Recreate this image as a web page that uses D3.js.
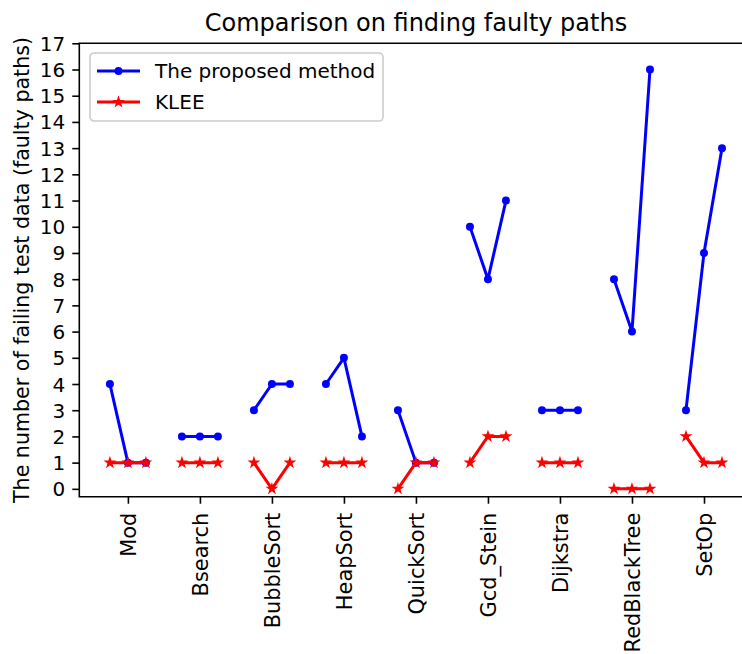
<!DOCTYPE html>
<html>
<head>
<meta charset="utf-8">
<script src="https://cdn.jsdelivr.net/npm/d3@7"></script>
<style>
  body { margin: 0; background: #fff; }
  svg { font-family: "DejaVu Sans", sans-serif; display: block; }
</style>
</head>
<body>
<svg width="742" height="654"></svg>
<script>
// data
var categories = ["Mod", "Bsearch", "BubbleSort", "HeapSort", "QuickSort", "Gcd_Stein", "Dijkstra", "RedBlackTree", "SetOp"];
var offsets = [-0.25, 0, 0.25];
var proposed = [[4,1,1],[2,2,2],[3,4,4],[4,5,2],[3,1,1],[10,8,11],[3,3,3],[8,6,16],[3,9,13]];
var klee = [[1,1,1],[1,1,1],[1,0,1],[1,1,1],[0,1,1],[1,2,2],[1,1,1],[0,0,0],[2,1,1]];
var yTicks = d3.range(0, 18);

var margin = {top: 43.3, left: 79.3, right: 752.6, bottom: 496.7};

var svg = d3.select("svg");

var x = d3.scaleLinear().domain([-0.675, 8.675]).range([margin.left, margin.right]);
var y = d3.scaleLinear().domain([-0.3, 17]).range([margin.bottom, margin.top]);

// title
svg.append("text")
    .attr("x", (margin.left + margin.right) / 2)
    .attr("y", 31)
    .attr("text-anchor", "middle")
    .attr("font-size", 24)
    .text("Comparison on finding faulty paths");

// axes
var yAxis = svg.append("g")
    .attr("transform", "translate(" + margin.left + ",0)")
    .call(d3.axisLeft(y).tickValues(yTicks).tickSize(7).tickPadding(7).tickFormat(d3.format("d")));

var xAxis = svg.append("g")
    .attr("transform", "translate(0," + margin.bottom + ")")
    .call(d3.axisBottom(x).tickValues(d3.range(categories.length)).tickSize(7).tickFormat(function(d) { return categories[d]; }));

[yAxis, xAxis].forEach(function(g) {
  g.select(".domain").remove();
  g.selectAll(".tick line").attr("stroke", "#000").attr("stroke-width", 1.6);
  g.selectAll(".tick text").attr("fill", "#000").attr("font-size", 20).attr("font-family", "DejaVu Sans");
});

yAxis.selectAll(".tick text").attr("dy", "0.35em");

xAxis.selectAll(".tick text")
    .attr("x", 0).attr("y", 0)
    .attr("dy", "0.35em")
    .attr("font-size", 20.9)
    .attr("text-anchor", "end")
    .attr("transform", "translate(0,16) rotate(-90)");

// spines
svg.append("path")
    .attr("d", "M" + margin.right + "," + margin.top + "H" + margin.left + "V" + margin.bottom + "H" + margin.right)
    .attr("fill", "none")
    .attr("stroke", "#000")
    .attr("stroke-width", 1.6);

// y label
svg.append("text")
    .attr("transform", "translate(29," + ((margin.top + margin.bottom) / 2) + ") rotate(-90)")
    .attr("text-anchor", "middle")
    .attr("font-size", 20.6)
    .text("The number of failing test data (faulty paths)");

function starPath(r) {
  var pts = [];
  for (var i = 0; i < 10; i++) {
    var rad = i % 2 === 0 ? r : r * 0.381966;
    var a = -Math.PI / 2 + i * Math.PI / 5;
    pts.push([rad * Math.cos(a), rad * Math.sin(a)]);
  }
  return "M" + pts.map(function(p) { return p[0].toFixed(2) + "," + p[1].toFixed(2); }).join("L") + "Z";
}

var line = d3.line()
    .x(function(d) { return x(d.x); })
    .y(function(d) { return y(d.y); });

function drawSeries(values, color, marker) {
  var g = svg.append("g");
  values.forEach(function(vals, ci) {
    var pts = vals.map(function(v, j) { return {x: ci + offsets[j], y: v}; });
    g.append("path")
        .attr("d", line(pts))
        .attr("fill", "none")
        .attr("stroke", color)
        .attr("stroke-width", 3)
        .attr("stroke-linejoin", "round")
        .attr("stroke-linecap", "square");
    pts.forEach(function(p) {
      if (marker === "dot") {
        g.append("circle")
            .attr("cx", x(p.x)).attr("cy", y(p.y)).attr("r", 3)
            .attr("fill", color).attr("stroke", color).attr("stroke-width", 2);
      } else {
        g.append("path")
            .attr("d", starPath(4.2))
            .attr("transform", "translate(" + x(p.x) + "," + y(p.y) + ")")
            .attr("fill", color).attr("stroke", color).attr("stroke-width", 1.6)
            .attr("stroke-linejoin", "miter");
      }
    });
  });
}

drawSeries(proposed, "#0000ff", "dot");
drawSeries(klee, "#ff0000", "star");

// legend
var legend = svg.append("g").attr("transform", "translate(90,53)");
legend.append("rect")
    .attr("width", 293).attr("height", 68).attr("rx", 4)
    .attr("fill", "#fff").attr("fill-opacity", 0.8)
    .attr("stroke", "#cccccc").attr("stroke-width", 1.6);

var legendItems = [
  {name: "The proposed method", color: "#0000ff", marker: "dot"},
  {name: "KLEE", color: "#ff0000", marker: "star"}
];

legendItems.forEach(function(item, i) {
  var cy = 18 + i * 31;
  legend.append("line")
      .attr("x1", 7).attr("x2", 50).attr("y1", cy).attr("y2", cy)
      .attr("stroke", item.color).attr("stroke-width", 3);
  if (item.marker === "dot") {
    legend.append("circle").attr("cx", 28.5).attr("cy", cy).attr("r", 3)
        .attr("fill", item.color).attr("stroke", item.color).attr("stroke-width", 2);
  } else {
    legend.append("path").attr("d", starPath(4.2))
        .attr("transform", "translate(28.5," + cy + ")")
        .attr("fill", item.color).attr("stroke", item.color).attr("stroke-width", 1.6);
  }
  legend.append("text")
      .attr("x", 65).attr("y", cy).attr("dy", "0.35em")
      .attr("font-size", 20)
      .text(item.name);
});
</script>
</body>
</html>
